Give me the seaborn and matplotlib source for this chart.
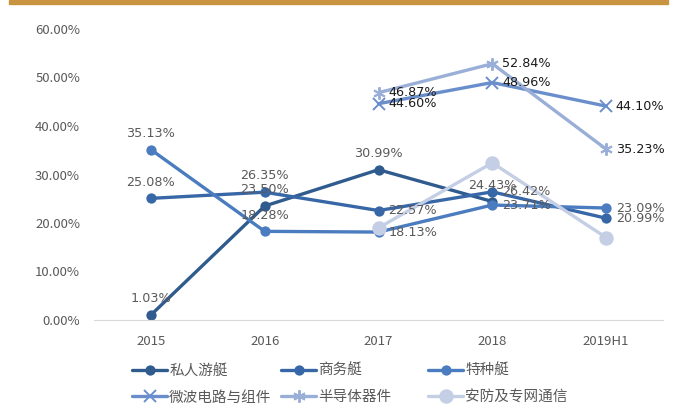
import matplotlib
matplotlib.use('Agg')
import matplotlib.pyplot as plt
import numpy as np
import pandas as pd
import seaborn as sns
from matplotlib.patches import Rectangle

# Categories and series values (percent)
years = ['2015', '2016', '2017', '2018', '2019H1']
yacht_private = [1.03, 23.50, 30.99, 24.43, np.nan]
yacht_business = [25.08, 26.35, 22.57, 26.42, 20.99]
yacht_special = [35.13, 18.28, 18.13, 23.71, 23.09]
microwave = [np.nan, np.nan, 44.60, 48.96, 44.10]
semiconductor = [np.nan, np.nan, 46.87, 52.84, 35.23]
security = [np.nan, np.nan, 19.00, 32.40, 17.00]

names = ['私人游艇', '商务艇', '特种艇', '微波电路与组件', '半导体器件', '安防及专网通信']
series = [yacht_private, yacht_business, yacht_special, microwave, semiconductor, security]
colors = ['#2f5b8e', '#3767a6', '#4a7cbf', '#6a8ecb', '#9aafd7', '#c4cee4']
markers = ['o', 'o', 'o', 'x', (6, 2, 0), 'o']
msizes = [6, 6, 6, 8, 9, 9]
# label placement per point: 'up', 'right' or None
places = [
    ['up', 'up', 'up', 'up', None],
    ['up', 'up', 'right', 'right', 'right'],
    ['up', 'up', 'right', 'right', 'right'],
    [None, None, 'right', 'right', 'right'],
    [None, None, 'right', 'right', 'right'],
    [None, None, None, None, None],
]
label_colors = ['#595959', '#595959', '#595959', '#1a1a1a', '#1a1a1a', '#595959']

sns.set_style('white')
plt.rcParams['font.family'] = ['Noto Sans CJK SC', 'DejaVu Sans']

fig = plt.figure(figsize=(6.85, 4.12), dpi=100)
ax = fig.add_axes([94 / 685, 1 - 320 / 412, 569 / 685, 291 / 412])

x = np.arange(len(years))
for name, vals, c, m, ms in zip(names, series, colors, markers, msizes):
    df = pd.DataFrame({'x': x, 'y': vals}).dropna()
    sns.lineplot(data=df, x='x', y='y', ax=ax, color=c, linewidth=2.4,
                 marker=m, markersize=ms, markeredgecolor=c, markeredgewidth=1.4,
                 label=name)

for vals, pl, lc in zip(series, places, label_colors):
    for xi, (v, p) in enumerate(zip(vals, pl)):
        if p is None or np.isnan(v):
            continue
        if p == 'up':
            ax.annotate(f'{v:.2f}%', (xi, v), xytext=(0, 7), textcoords='offset points',
                        ha='center', va='bottom', fontsize=9.2, color=lc,
                        family='DejaVu Sans')
        else:
            ax.annotate(f'{v:.2f}%', (xi, v), xytext=(7, 0), textcoords='offset points',
                        ha='left', va='center', fontsize=9.2, color=lc,
                        family='DejaVu Sans')

ax.set_xlim(-0.5, 4.5)
ax.set_ylim(0, 60)
ax.set_xticks(x)
ax.set_xticklabels(years)
ax.set_yticks(np.arange(0, 61, 10))
ax.set_yticklabels([f'{t:.2f}%' for t in np.arange(0, 61, 10)])
ax.tick_params(axis='both', length=0, labelsize=9.5, labelcolor='#595959')
ax.tick_params(axis='x', pad=11)
ax.tick_params(axis='y', pad=10)
ax.set_xlabel('')
ax.set_ylabel('')
for s in ['top', 'right', 'left']:
    ax.spines[s].set_visible(False)
ax.spines['bottom'].set_color('#d9d9d9')
ax.grid(False)

# legend: three fixed-width columns, filled row by row
handles, labels = ax.get_legend_handles_labels()
ax.get_legend().remove()
col_x = [132, 281, 428]
for ci, cx in enumerate(col_x):
    idx = [ci, ci + 3]
    fig.legend([handles[i] for i in idx], [labels[i] for i in idx],
               loc='upper left', bbox_to_anchor=(cx / 685, 1 - 364 / 412),
               bbox_transform=fig.transFigure, ncol=1, frameon=False,
               fontsize=10.5, handlelength=2.4, handletextpad=0.15,
               labelspacing=0.85, borderpad=0, borderaxespad=0,
               labelcolor='#595959')

fig.add_artist(Rectangle((9 / 685, 1 - 4 / 412), 659 / 685, 4 / 412,
                         transform=fig.transFigure, color='#c9943f'))

fig.savefig('out.png', dpi=100)
